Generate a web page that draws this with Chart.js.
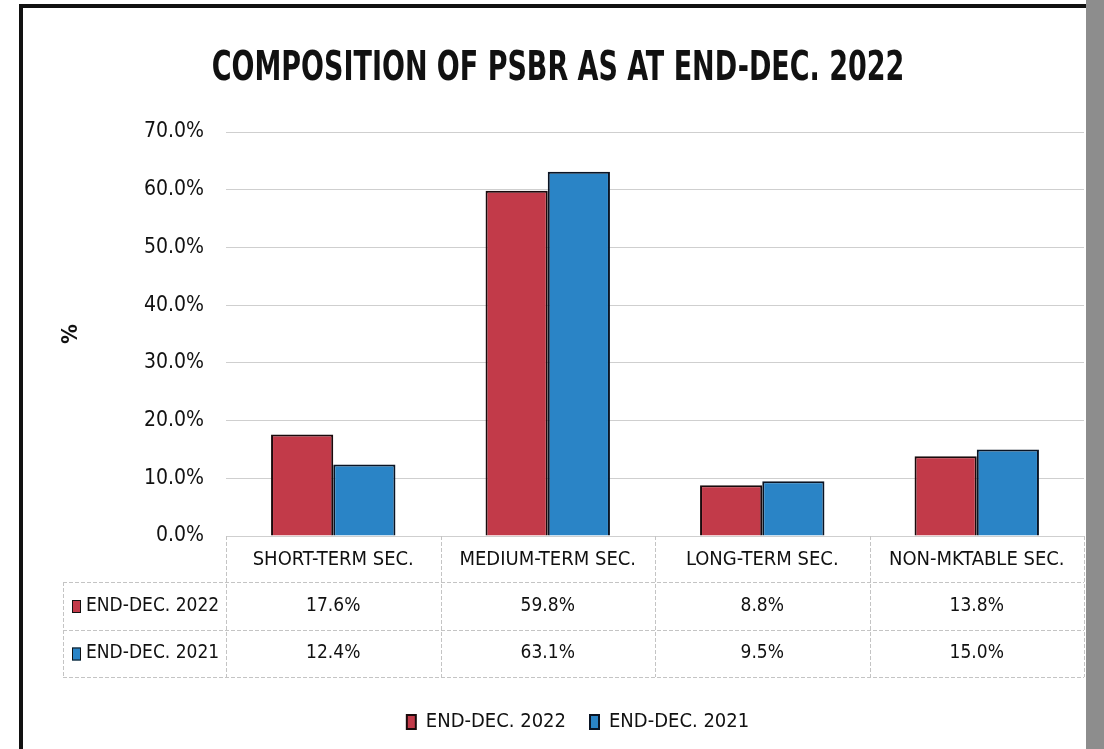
<!DOCTYPE html>
<html>
<head>
<meta charset="utf-8">
<script src="https://cdn.jsdelivr.net/npm/chart.js@4"></script>
<style>
  html, body { margin: 0; padding: 0; background: #fff; }
  #wrap { position: relative; width: 1104px; height: 749px; overflow: hidden; }
  #frame { position: absolute; left: 19px; top: 4px; width: 1063px; height: 760px;
           border-left: 4px solid #111; border-top: 4px solid #111; }
  #edge { position: absolute; left: 1086px; top: 0; width: 18px; height: 749px; background: #8d8d8d; }
  canvas { position: absolute; left: 0; top: 0; }
</style>
</head>
<body>
<div id="wrap">
  <div id="frame"></div>
  <div id="edge"></div>
  <canvas id="psbrChart" width="1104" height="749"></canvas>
</div>
<script>
const chartTitle = "COMPOSITION OF PSBR AS AT END-DEC. 2022";
const categories = ["SHORT-TERM SEC.", "MEDIUM-TERM SEC.", "LONG-TERM SEC.", "NON-MKTABLE SEC."];
const seriesNames = ["END-DEC. 2022", "END-DEC. 2021"];
const dec2022 = [17.6, 59.8, 8.8, 13.8];
const dec2021 = [12.4, 63.1, 9.5, 15.0];
const yTicks = [0, 10, 20, 30, 40, 50, 60, 70];

const FONT = "'DejaVu Sans Condensed', 'Liberation Sans', sans-serif";
const RED = "#c23a49";
const BLUE = "#2a84c6";

const pct = v => v.toFixed(1) + "%";

// narrow bold heading, squeezed horizontally
const heading = {
  id: "heading",
  afterDraw(chart) {
    const ctx = chart.ctx;
    ctx.save();
    ctx.translate(558, 80);
    ctx.scale(0.75, 1);
    ctx.font = "bold 40px " + FONT;
    ctx.fillStyle = "#111";
    ctx.textAlign = "center";
    ctx.textBaseline = "alphabetic";
    ctx.fillText(chartTitle, 0, 0);
    ctx.restore();
  }
};

// push the legend a little to the right of centre
const legendShift = {
  id: "legendShift",
  afterLayout(chart) {
    if (chart.legend) {
      chart.legend.left += 26;
      chart.legend.right += 26;
    }
  }
};

// data table under the bars, columns follow the x scale
const dataTable = {
  id: "dataTable",
  afterDraw(chart) {
    const ctx = chart.ctx;
    const xs = chart.scales.x;
    const area = chart.chartArea;
    const n = categories.length;
    const colW = (xs.right - xs.left) / n;
    const tableLeft = 63;
    const rowTops = [area.bottom, 582, 630, 677];

    ctx.save();
    ctx.strokeStyle = "#c4c4c4";
    ctx.lineWidth = 1;
    ctx.setLineDash([4, 2]);
    ctx.beginPath();
    for (let r = 1; r < rowTops.length; r++) {
      ctx.moveTo(tableLeft, rowTops[r] + 0.5);
      ctx.lineTo(xs.right, rowTops[r] + 0.5);
    }
    for (let c = 0; c <= n; c++) {
      const x = Math.round(xs.left + c * colW) + 0.5;
      ctx.moveTo(x, rowTops[0]);
      ctx.lineTo(x, rowTops[3]);
    }
    ctx.moveTo(tableLeft + 0.5, rowTops[1]);
    ctx.lineTo(tableLeft + 0.5, rowTops[3]);
    ctx.stroke();
    ctx.setLineDash([]);

    ctx.fillStyle = "#111";
    ctx.textBaseline = "middle";
    ctx.textAlign = "center";
    ctx.font = "20px " + FONT;
    categories.forEach((c, i) => {
      ctx.fillText(c, xs.getPixelForValue(i), (rowTops[0] + rowTops[1]) / 2 + 1);
    });

    ctx.font = "19px " + FONT;
    const rows = [dec2022, dec2021];
    const colors = [RED, BLUE];
    rows.forEach((vals, r) => {
      const yMid = (rowTops[r + 1] + rowTops[r + 2]) / 2;
      ctx.fillStyle = colors[r];
      ctx.strokeStyle = "#111";
      ctx.lineWidth = 1;
      ctx.fillRect(72, yMid - 6, 9, 13);
      ctx.strokeRect(72.5, yMid - 5.5, 8, 12);
      ctx.fillStyle = "#111";
      ctx.textAlign = "left";
      ctx.fillText(seriesNames[r], 86, yMid);
      ctx.textAlign = "center";
      vals.forEach((v, i) => ctx.fillText(pct(v), xs.getPixelForValue(i), yMid));
    });
    ctx.restore();
  }
};

new Chart(document.getElementById("psbrChart"), {
  type: "bar",
  data: {
    labels: categories,
    datasets: [
      { label: seriesNames[0], data: dec2022, backgroundColor: RED, borderColor: "#1a0a0c", borderWidth: 2 },
      { label: seriesNames[1], data: dec2021, backgroundColor: BLUE, borderColor: "#0a1424", borderWidth: 2 }
    ]
  },
  options: {
    responsive: false,
    animation: false,
    layout: { padding: { left: 20, right: 20, top: 132, bottom: 7 } },
    datasets: { bar: { categoryPercentage: 0.58, barPercentage: 1.0 } },
    scales: {
      x: {
        grid: { display: false },
        border: { display: false },
        ticks: { display: false },
        afterFit(scale) { scale.height = 152; }
      },
      y: {
        min: 0,
        max: 70,
        afterBuildTicks(scale) { scale.ticks = yTicks.map(v => ({ value: v })); },
        afterFit(scale) { scale.width = 206; },
        grid: { color: "#cfcfcf", lineWidth: 1, drawTicks: false },
        border: { display: false },
        ticks: {
          padding: 22,
          color: "#111",
          font: { family: FONT, size: 21 },
          callback: v => pct(v)
        },
        title: {
          display: true,
          text: "%",
          color: "#111",
          font: { family: FONT, size: 22, weight: "bold" },
          padding: { top: 38 }
        }
      }
    },
    plugins: {
      legend: {
        position: "bottom",
        labels: {
          color: "#111",
          font: { family: FONT, size: 20 },
          boxWidth: 9,
          boxHeight: 14,
          padding: 24
        }
      },
      tooltip: { enabled: false }
    }
  },
  plugins: [heading, legendShift, dataTable]
});
</script>
</body>
</html>
